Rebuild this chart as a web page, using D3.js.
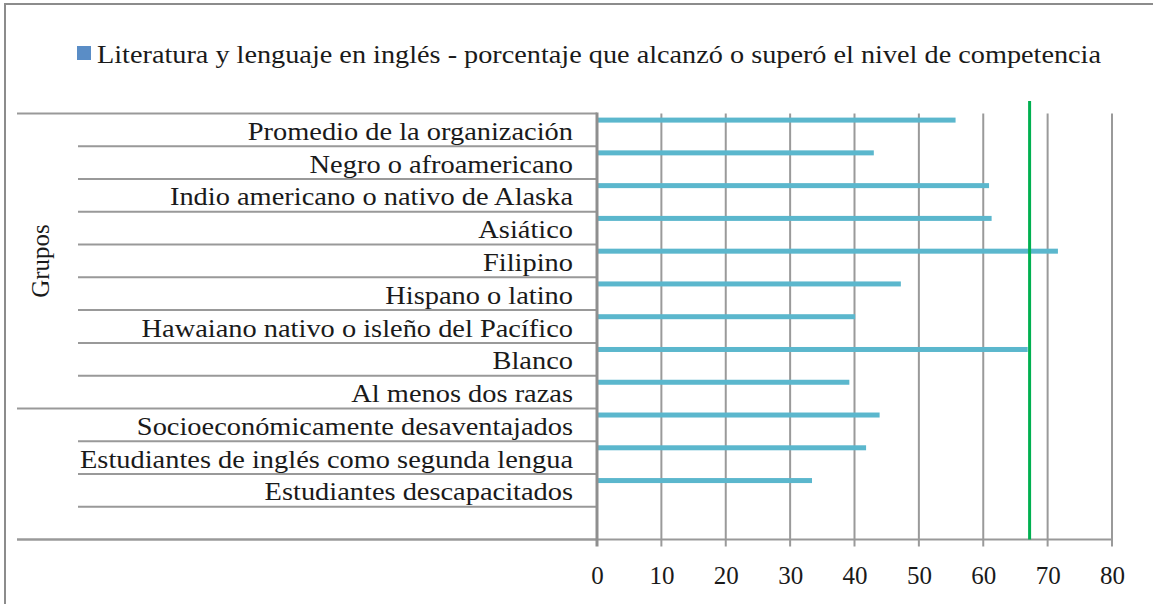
<!DOCTYPE html>
<html>
<head lang="es">
  <meta charset="UTF-8">
  <title>Literatura y lenguaje en inglés</title>
  <script src="https://cdn.jsdelivr.net/npm/d3@7"></script>
</head>
<style>
  body { margin: 0; background: #fff; }
  #chart text { font-family: "Liberation Serif", "DejaVu Serif", serif; fill: #1a1a1a; }
  #chart .grid line { stroke: #9a9a9a; stroke-width: 2; }
  #chart .sep { stroke: #999; stroke-width: 2; }
  #chart .bar { fill: #5bb7cd; }
</style>
<body>

<svg id="chart" width="1153" height="604"></svg>

<script>
  var categories = [
    'Promedio de la organización',
    'Negro o afroamericano',
    'Indio americano o nativo de Alaska',
    'Asiático',
    'Filipino',
    'Hispano o latino',
    'Hawaiano nativo o isleño del Pacífico',
    'Blanco',
    'Al menos dos razas',
    'Socioeconómicamente desaventajados',
    'Estudiantes de inglés como segunda lengua',
    'Estudiantes descapacitados'
  ];
  var values = [ 55.7, 43.0, 60.9, 61.3, 71.6, 47.2, 40.1, 66.9, 39.2, 43.9, 41.8, 33.4 ];
  var groupSizes = [ 9, 4 ];          // "Grupos" spans the first 9 rows, second group has 3 + empty row
  var groupNames = [ 'Grupos', '' ];
  var target = 67.2;
  var xTicks = [ 0, 10, 20, 30, 40, 50, 60, 70, 80 ];
  var seriesName = 'Literatura y lenguaje en inglés - porcentaje que alcanzó o superó el nivel de competencia';

  var svg = d3.select('#chart');
  var plotTop = 113.5, plotBottom = 539.5, plotLeft = 597, plotRight = 1112;

  // outer frame (right/bottom edges fall off the picture, like the source)
  svg.append('rect')
    .attr('x', 5).attr('y', 4).attr('width', 1170).attr('height', 620)
    .attr('fill', 'none').attr('stroke', '#8c8c8c').attr('stroke-width', 2);

  var rows = d3.range(categories.length + 1);   // one empty row at the bottom
  var x = d3.scaleLinear().domain([0, 80]).range([plotLeft, plotRight]);
  var y = d3.scaleBand().domain(rows).range([plotTop, plotBottom]);
  var bw = y.bandwidth();

  // vertical gridlines with little ticks below the axis
  svg.append('g').attr('class', 'grid')
    .selectAll('line')
    .data(xTicks.slice(1))
    .enter()
      .append('line')
      .attr('x1', x).attr('x2', x)
      .attr('y1', plotTop).attr('y2', plotBottom + 7);

  // row separators of the category axis
  var groupStarts = [0];
  groupSizes.forEach(function(n, i) { groupStarts.push(groupStarts[i] + n); });
  svg.append('g')
    .selectAll('line')
    .data(d3.range(rows.length + 1))
    .enter()
      .append('line')
      .attr('class', 'sep')
      .attr('x1', function(i) { return groupStarts.indexOf(i) >= 0 ? 17 : 78; })
      .attr('x2', plotLeft)
      .attr('y1', function(i) { return plotTop + i * bw; })
      .attr('y2', function(i) { return plotTop + i * bw; });

  // bottom axis line
  svg.append('line')
    .attr('x1', 17).attr('x2', plotRight)
    .attr('y1', plotBottom).attr('y2', plotBottom)
    .attr('stroke', '#999').attr('stroke-width', 2);

  // bars
  svg.append('g')
    .selectAll('rect')
    .data(values)
    .enter()
      .append('rect')
      .attr('class', 'bar')
      .attr('x', x(0))
      .attr('y', function(d, i) { return y(i) + bw * 0.125; })
      .attr('width', function(d) { return x(d) - x(0); })
      .attr('height', 5);

  // left axis line
  svg.append('line')
    .attr('x1', plotLeft).attr('x2', plotLeft)
    .attr('y1', plotTop - 1).attr('y2', plotBottom + 7)
    .attr('stroke', '#8f8f8f').attr('stroke-width', 3);

  // target line
  svg.append('line')
    .attr('x1', x(target)).attr('x2', x(target))
    .attr('y1', 101).attr('y2', plotBottom)
    .attr('stroke', '#00b050').attr('stroke-width', 3);

  // category labels
  var labels = svg.append('g')
    .selectAll('text')
    .data(categories)
    .enter()
      .append('text')
      .attr('x', 573)
      .attr('y', function(d, i) { return y(i) + bw / 2 + 10; })
      .attr('text-anchor', 'end')
      .style('font-size', '25px')
      .text(function(d) { return d; });
  stretch(labels, 'Estudiantes de inglés como segunda lengua', 493);

  // group label
  svg.append('text')
    .attr('transform', 'translate(49,' + (plotTop + groupSizes[0] * bw / 2) + ') rotate(-90)')
    .attr('text-anchor', 'middle')
    .style('font-size', '25px')
    .text(groupNames[0]);

  // x tick labels
  var axis = d3.axisBottom(x).tickValues(xTicks).tickSize(0).tickPadding(0);
  var ax = svg.append('g')
    .attr('transform', 'translate(0,' + 584 + ')')
    .call(axis);
  ax.select('.domain').remove();
  ax.selectAll('text')
    .attr('dy', 0)
    .attr('fill', '#1a1a1a')
    .style('font-size', '25px')
    .style('font-family', '"Liberation Serif", serif');

  // legend
  svg.append('rect')
    .attr('x', 77).attr('y', 46).attr('width', 14).attr('height', 14)
    .attr('fill', '#5a8dc6');
  var legendText = svg.append('text')
    .attr('x', 97).attr('y', 63)
    .style('font-size', '25px')
    .text(seriesName);
  stretch(legendText, seriesName, 1004);

  // the source face is wider than Liberation Serif: stretch glyphs by a common factor
  function stretch(sel, longest, width) {
    var probe = null;
    sel.each(function() { if (this.textContent === longest) probe = this; });
    var k = width / probe.getComputedTextLength();
    sel.each(function() {
      var w = this.getComputedTextLength();
      d3.select(this)
        .attr('textLength', w * k)
        .attr('lengthAdjust', 'spacingAndGlyphs');
    });
  }
</script>
</body>
</html>
